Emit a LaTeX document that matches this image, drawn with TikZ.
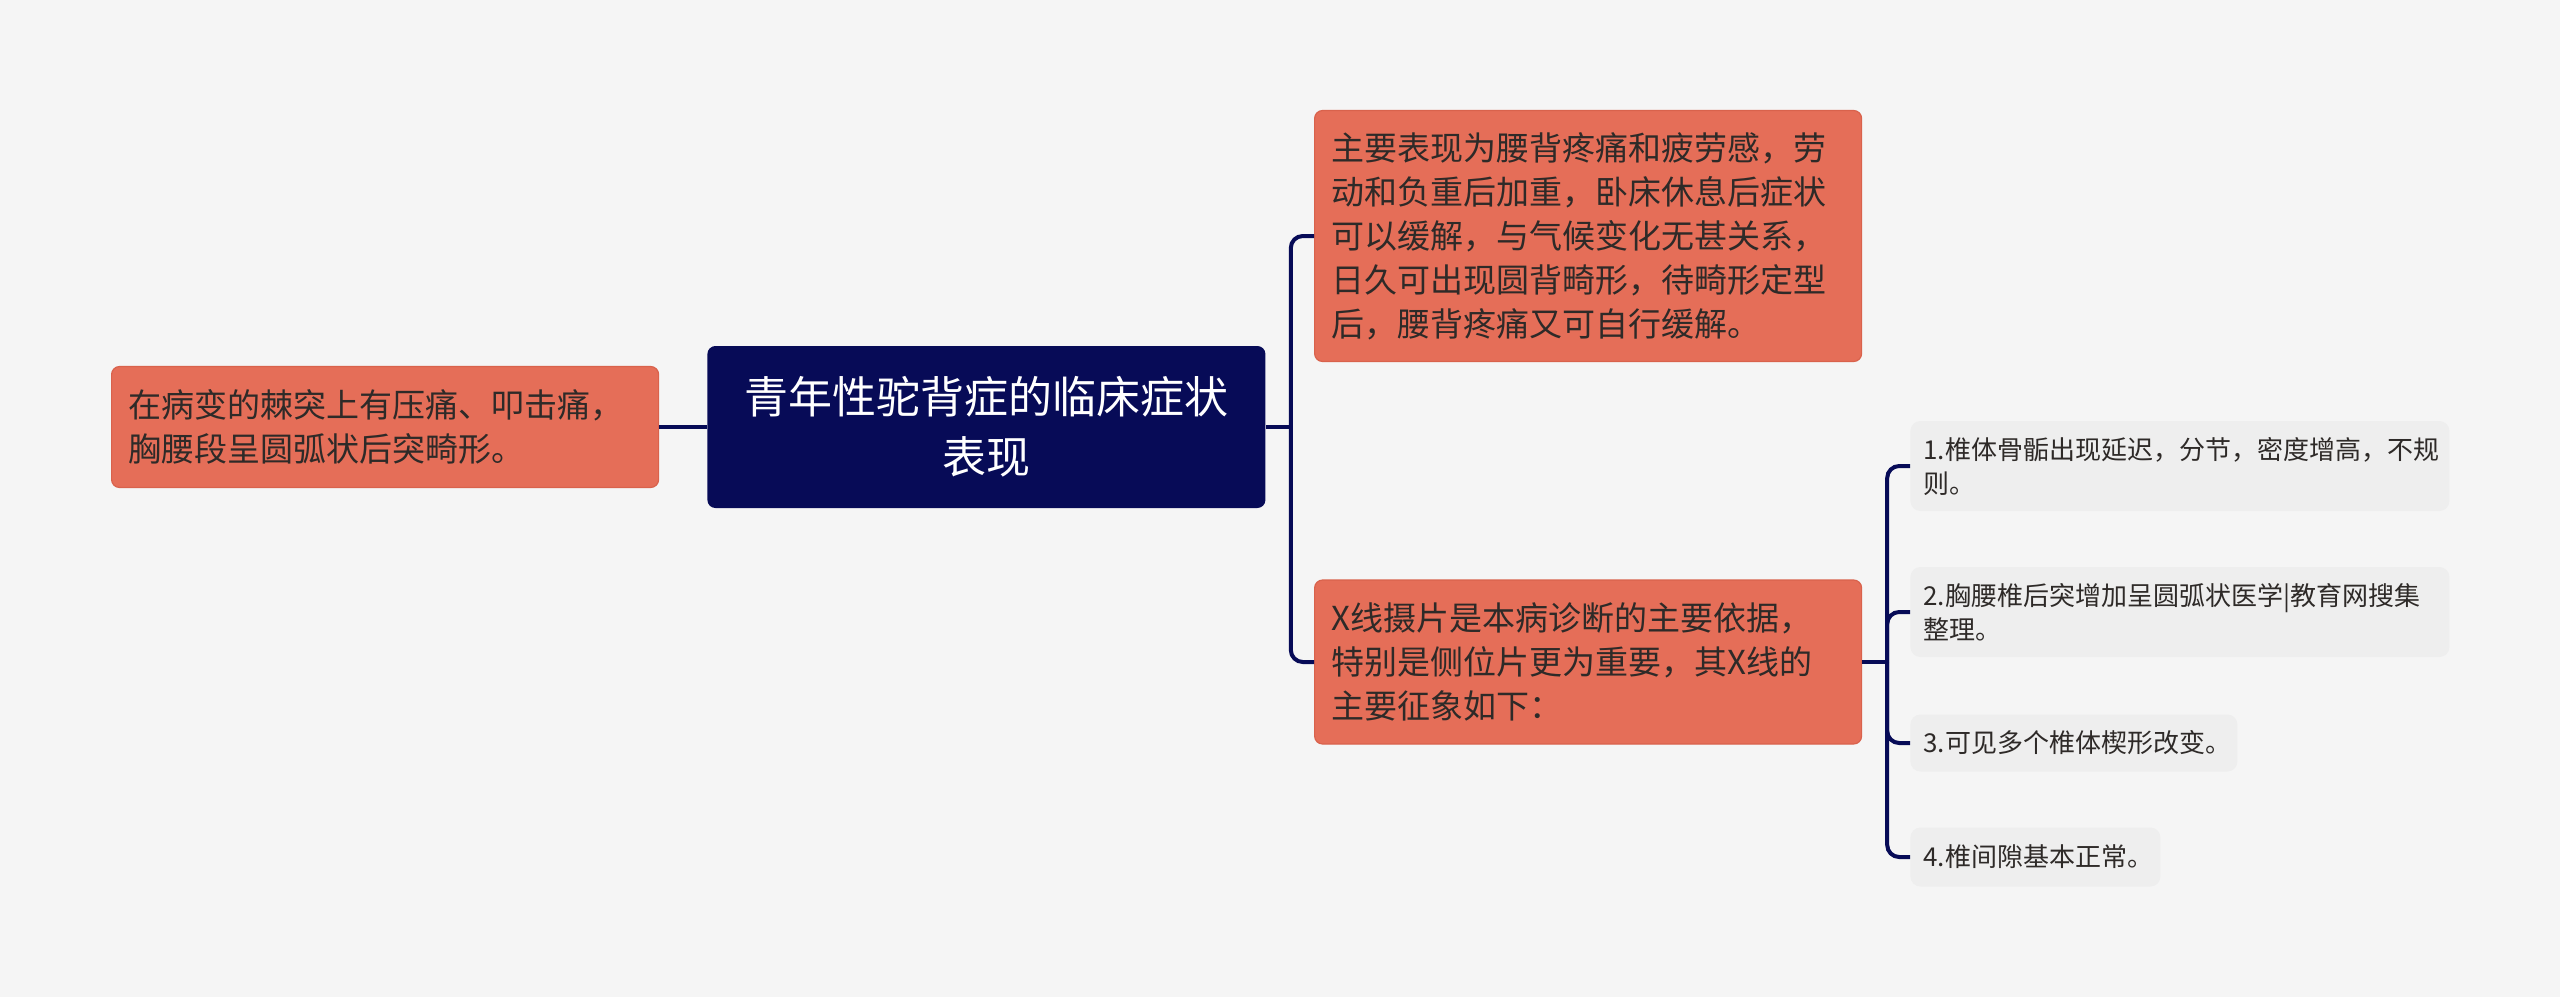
\documentclass[tikz,border=0pt]{standalone}
\usepackage{fontspec}
\setmainfont{Noto Sans CJK SC}
\usepackage{xcolor}
\usepackage{tikz}

\definecolor{bgcol}{HTML}{F5F5F5}
\definecolor{navy}{HTML}{070B57}
\definecolor{coral}{HTML}{E56E58}
\definecolor{coraledge}{HTML}{D9624C}
\definecolor{leafcol}{HTML}{EEEEEE}
\definecolor{inkcol}{HTML}{2E2A28}

\begin{document}
\begin{tikzpicture}[x=0.5pt,y=-0.5pt,
  rootbox/.style={fill=navy, rounded corners=4pt, text=white, anchor=west,
    align=center, text width=263pt, inner xsep=8pt, minimum height=81pt,
    font=\fontsize{22}{30}\selectfont},
  topicbox/.style={fill=coral, draw=coraledge, line width=0.6pt, rounded corners=4pt,
    text=inkcol, anchor=west, align=left, text width=256.5pt, inner xsep=8.5pt,
    font=\fontsize{16.5}{22}\selectfont},
  leafbox/.style={fill=leafcol, rounded corners=5pt, text=inkcol, anchor=west,
    align=left, inner xsep=6.5pt, font=\fontsize{13}{17}\selectfont},
  link/.style={draw=navy, line width=2pt, rounded corners=6pt}]
  \fill[bgcol] (0,0) rectangle (2560,997);
  % centre and main branches
  \node[rootbox] (root) at (707,427) {青年性驼背症的临床症状\\表现};
  \node[topicbox, minimum height=60.5pt] (side) at (111,427)
    {在病变的棘突上有压痛、叩击痛，\\胸腰段呈圆弧状后突畸形。};
  \node[topicbox, minimum height=125.5pt] (sym) at (1314,236)
    {主要表现为腰背疼痛和疲劳感，劳\\动和负重后加重，卧床休息后症状\\可以缓解，与气候变化无甚关系，\\日久可出现圆背畸形，待畸形定型\\后，腰背疼痛又可自行缓解。};
  \node[topicbox, minimum height=82pt] (xray) at (1314,662)
    {X线摄片是本病诊断的主要依据，\\特别是侧位片更为重要，其X线的\\主要征象如下：};
  % x-ray signs
  \foreach \i/\y/\w/\h/\t in {
      1/466/256.5pt/45pt/{1.椎体骨骺出现延迟，分节，密度增高，不规\\则。},
      2/612/256.5pt/45pt/{2.胸腰椎后突增加呈圆弧状医学|教育网搜集\\整理。},
      3/743/150.5pt/28.5pt/{3.可见多个椎体楔形改变。},
      4/857/112pt/29.5pt/{4.椎间隙基本正常。}} {
    \node[leafbox, text width=\w, minimum height=\h] (leaf\i) at (1910,\y) {\t};
  }
  % connectors
  \draw[link] (root.west) -- (side.east);
  \coordinate[xshift=12.5pt] (rj) at (root.east);
  \draw[link] (root.east) -- (rj);
  \draw[link] (rj) |- (sym.west);
  \draw[link] (rj) |- (xray.west);
  \coordinate[xshift=12.5pt] (xj) at (xray.east);
  \draw[link] (xray.east) -- (xj);
  \foreach \i in {1,...,4} {
    \draw[link] (xj) |- (leaf\i.west);
  }
\end{tikzpicture}
\end{document}
